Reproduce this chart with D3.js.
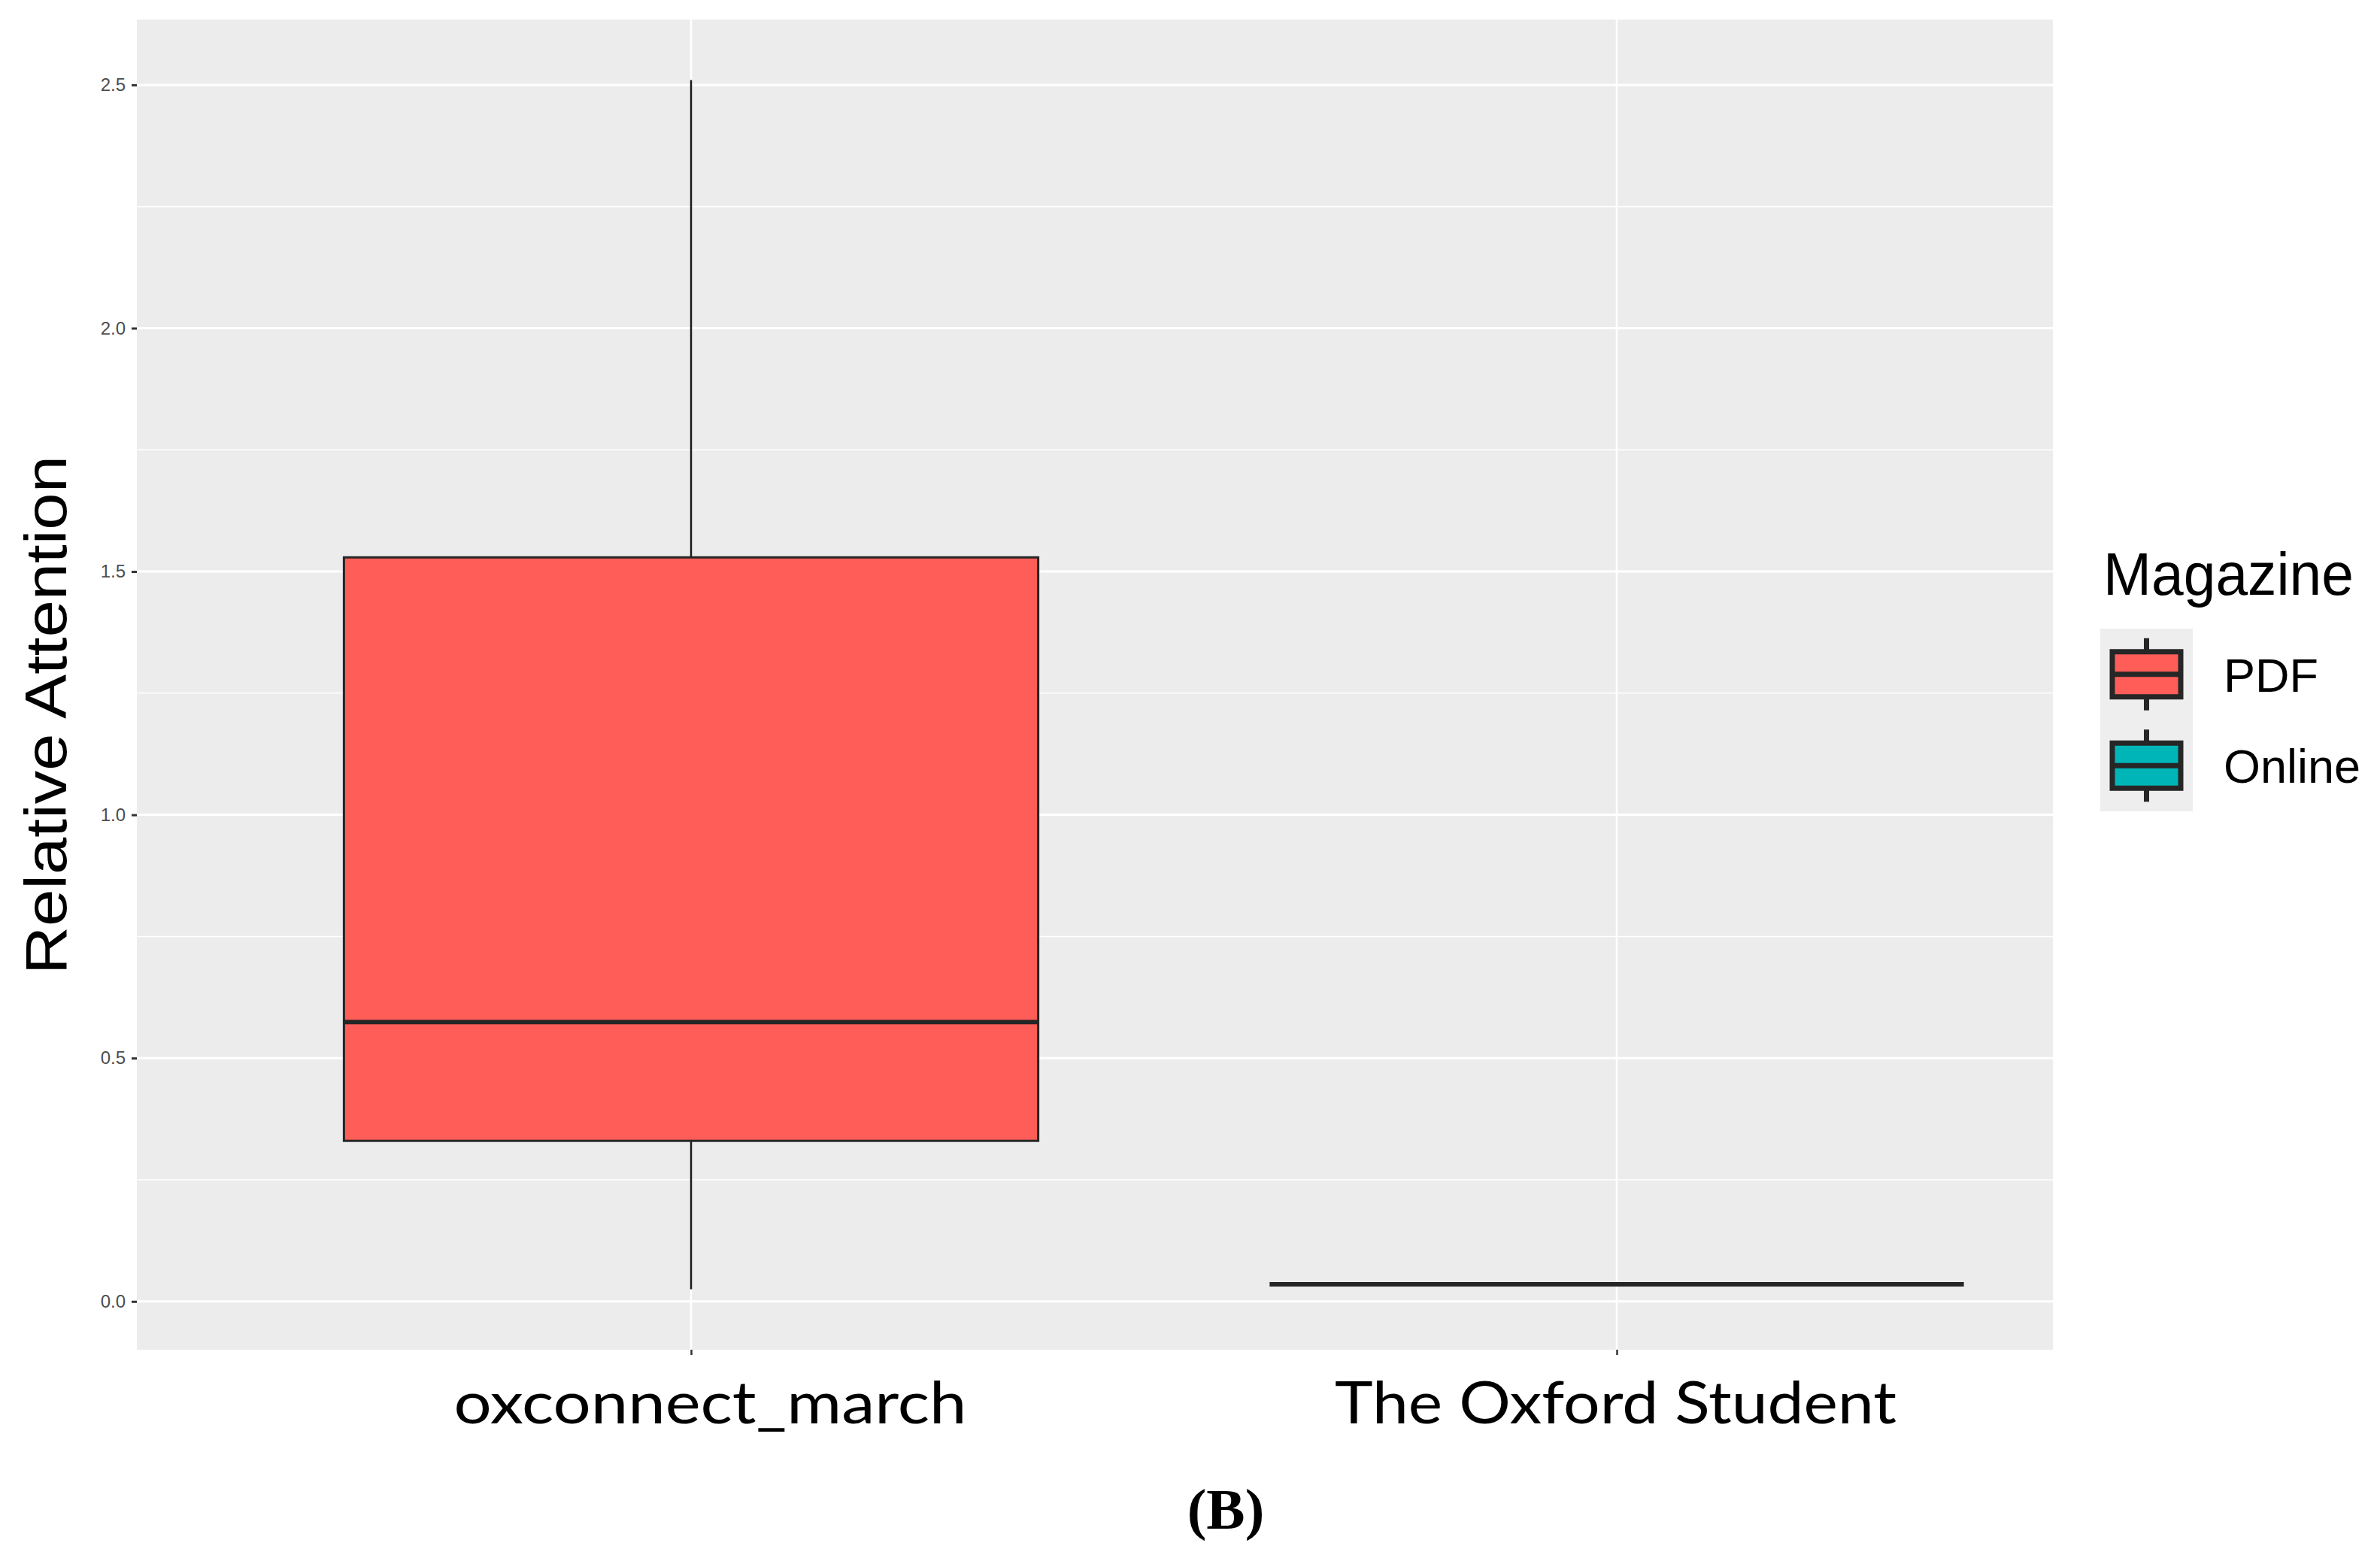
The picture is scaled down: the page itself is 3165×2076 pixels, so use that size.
<!DOCTYPE html>
<html>
<head>
<meta charset="utf-8">
<script src="https://cdn.jsdelivr.net/npm/d3@7"></script>
<style>
  html, body { margin: 0; padding: 0; background: #ffffff; }
  svg { display: block; }
</style>
</head>
<body>
<script>
// ---------------- data ----------------
const categories   = ["oxconnect_march", "The Oxford Student"];
const magazineOf   = ["PDF", "Online"];
const lowerWhisker = [0.025, 0.035];
const q1           = [0.330, 0.035];
const median       = [0.574, 0.035];
const q3           = [1.529, 0.035];
const upperWhisker = [2.510, 0.035];

const yTicks       = [0.0, 0.5, 1.0, 1.5, 2.0, 2.5];
const legendLabels = ["PDF", "Online"];
const legendFills  = ["#FF5D58", "#00B5B8"];
const yTitle = "Relative Attention";
const legendTitle = "Magazine";
const panelLabel = "(B)";

// ---------------- layout ----------------
const W = 3165, H = 2076;
const P = { left: 182, right: 2730, top: 26, bottom: 1795 };

const svg = d3.select("body").append("svg")
  .attr("width", W).attr("height", H)
  .attr("viewBox", `0 0 ${W} ${H}`);

svg.append("rect").attr("width", W).attr("height", H).attr("fill", "#ffffff");

// y scale with ggplot-like 5% expansion
const dmin = d3.min(lowerWhisker), dmax = d3.max(upperWhisker);
const pad = (dmax - dmin) * 0.05;
const y = d3.scaleLinear().domain([dmin - pad, dmax + pad]).range([P.bottom, P.top]);

// x scale (discrete)
const x = d3.scalePoint().domain(categories).range([919, 2150]);
const step = x(categories[1]) - x(categories[0]);
const boxW = step * 0.75;

// panel background
svg.append("rect")
  .attr("x", P.left).attr("y", P.top)
  .attr("width", P.right - P.left).attr("height", P.bottom - P.top)
  .attr("fill", "#ECECEC");

// minor gridlines
const minor = d3.range(yTicks.length - 1).map(i => (yTicks[i] + yTicks[i + 1]) / 2);
svg.append("g").selectAll("line").data(minor).join("line")
  .attr("x1", P.left).attr("x2", P.right)
  .attr("y1", d => y(d)).attr("y2", d => y(d))
  .attr("stroke", "#ffffff").attr("stroke-width", 1.5);

// major gridlines
svg.append("g").selectAll("line").data(yTicks).join("line")
  .attr("x1", P.left).attr("x2", P.right)
  .attr("y1", d => y(d)).attr("y2", d => y(d))
  .attr("stroke", "#ffffff").attr("stroke-width", 3);

svg.append("g").selectAll("line").data(categories).join("line")
  .attr("x1", d => x(d)).attr("x2", d => x(d))
  .attr("y1", P.top).attr("y2", P.bottom)
  .attr("stroke", "#ffffff").attr("stroke-width", 2.5);

// ---------------- boxplots ----------------
const fillOf = m => legendFills[legendLabels.indexOf(m)];
const boxes = categories.map((c, i) => ({
  c, m: magazineOf[i], lo: lowerWhisker[i], q1: q1[i], med: median[i], q3: q3[i], hi: upperWhisker[i]
}));

const bg = svg.append("g");
boxes.forEach(b => {
  const cx = x(b.c);
  bg.append("line").attr("x1", cx).attr("x2", cx)
    .attr("y1", y(b.hi)).attr("y2", y(b.q3))
    .attr("stroke", "#1a1a1a").attr("stroke-width", 2.5);
  bg.append("line").attr("x1", cx).attr("x2", cx)
    .attr("y1", y(b.q1)).attr("y2", y(b.lo))
    .attr("stroke", "#1a1a1a").attr("stroke-width", 2.5);
  bg.append("rect")
    .attr("x", cx - boxW / 2).attr("width", boxW)
    .attr("y", y(b.q3)).attr("height", Math.max(0, y(b.q1) - y(b.q3)))
    .attr("fill", fillOf(b.m))
    .attr("stroke", "#262626").attr("stroke-width", 3);
  bg.append("line")
    .attr("x1", cx - boxW / 2).attr("x2", cx + boxW / 2)
    .attr("y1", y(b.med)).attr("y2", y(b.med))
    .attr("stroke", "#262626").attr("stroke-width", 6);
});

// ---------------- axes ----------------
const yAxis = svg.append("g")
  .attr("transform", `translate(${P.left},0)`)
  .call(d3.axisLeft(y).tickValues(yTicks).tickSize(7).tickPadding(8).tickFormat(d3.format(".1f")));
yAxis.select(".domain").remove();
yAxis.selectAll(".tick line").attr("stroke", "#333333").attr("stroke-width", 3);
yAxis.selectAll(".tick text")
  .attr("fill", "#4D4D4D")
  .style("font-family", "'Liberation Sans', Arial, sans-serif")
  .style("font-size", "24px");

const xAxis = svg.append("g")
  .attr("transform", `translate(0,${P.bottom})`)
  .call(d3.axisBottom(x).tickSize(7).tickPadding(0));
xAxis.select(".domain").remove();
xAxis.selectAll(".tick line").attr("stroke", "#333333").attr("stroke-width", 2.5);
const xLabelWidths = { "oxconnect_march": 682, "The Oxford Student": 747 };
const xLabelNudge  = { "oxconnect_march": 25, "The Oxford Student": -2 };
xAxis.selectAll(".tick text")
  .attr("x", d => xLabelNudge[d])
  .attr("y", 98).attr("dy", 0)
  .attr("fill", "#000000")
  .attr("textLength", d => xLabelWidths[d])
  .attr("lengthAdjust", "spacingAndGlyphs")
  .style("font-family", "Lato, 'Open Sans', sans-serif")
  .style("font-size", "77px");

// y title
svg.append("text")
  .attr("transform", "translate(88,951) rotate(-90)")
  .attr("text-anchor", "middle")
  .attr("textLength", 690).attr("lengthAdjust", "spacingAndGlyphs")
  .style("font-family", "'Liberation Sans', Arial, sans-serif")
  .style("font-size", "78px")
  .attr("fill", "#000000")
  .text(yTitle);

// ---------------- legend ----------------
const lg = svg.append("g");
lg.append("text")
  .attr("x", 2797).attr("y", 791)
  .attr("textLength", 333).attr("lengthAdjust", "spacingAndGlyphs")
  .style("font-family", "'Liberation Sans', Arial, sans-serif")
  .style("font-size", "79px")
  .attr("fill", "#000000")
  .text(legendTitle);

const keyX = 2793, keyY = 836, keyW = 123, keyH = 121.5;
lg.append("rect").attr("x", keyX).attr("y", keyY)
  .attr("width", keyW).attr("height", keyH * legendLabels.length)
  .attr("fill", "#EEEEEE");

legendLabels.forEach((lab, i) => {
  const cy = keyY + keyH * i + keyH / 2;
  const cx = keyX + keyW / 2;
  lg.append("line").attr("x1", cx).attr("x2", cx)
    .attr("y1", cy - 48).attr("y2", cy + 48)
    .attr("stroke", "#262626").attr("stroke-width", 7);
  lg.append("rect")
    .attr("x", cx - 45.5).attr("y", cy - 30)
    .attr("width", 91).attr("height", 60)
    .attr("fill", legendFills[i])
    .attr("stroke", "#262626").attr("stroke-width", 7);
  lg.append("line").attr("x1", cx - 45.5).attr("x2", cx + 45.5)
    .attr("y1", cy).attr("y2", cy)
    .attr("stroke", "#262626").attr("stroke-width", 7);
  lg.append("text")
    .attr("x", 2957).attr("y", cy + 23)
    .style("font-family", "'Liberation Sans', Arial, sans-serif")
    .style("font-size", "63px")
    .attr("fill", "#000000")
    .text(lab);
});

// ---------------- panel label ----------------
svg.append("text")
  .attr("x", 1630).attr("y", 2033)
  .attr("text-anchor", "middle")
  .style("font-family", "'Liberation Serif', 'Times New Roman', serif")
  .style("font-weight", "bold")
  .style("font-size", "77px")
  .attr("fill", "#000000")
  .text(panelLabel);
</script>
</body>
</html>
